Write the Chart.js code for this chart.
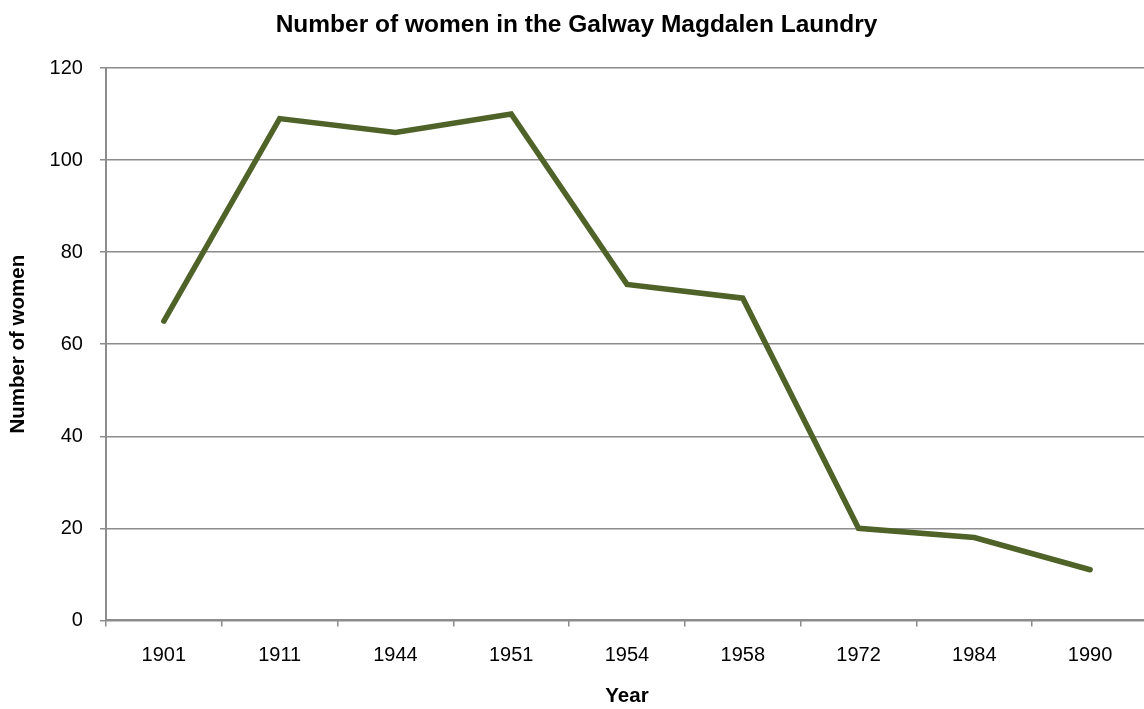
<!DOCTYPE html>
<html lang="en">
<head>
    <meta charset="UTF-8">
    <title>Number of women in the Galway Magdalen Laundry</title>
    <script src="https://cdn.jsdelivr.net/npm/chart.js"></script>
    <style>
        html, body {
            margin: 0;
            padding: 0;
            background: #fff;
            overflow: hidden;
        }
        #wrap {
            width: 1144px;
            height: 709px;
            overflow: hidden;
        }
    </style>
</head>
<body>
<div id="wrap">
    <canvas id="womenChart" width="1148" height="709"></canvas>
</div>

<script>
    // Data
    const years = ['1901', '1911', '1944', '1951', '1954', '1958', '1972', '1984', '1990'];
    const women = [65, 109, 106, 110, 73, 70, 20, 18, 11];
    const yTicks = [0, 20, 40, 60, 80, 100, 120];

    const gridGray = '#8c8c8c';
    const fontFamily = 'Liberation Sans, Arial, sans-serif';

    const ctx = document.getElementById('womenChart').getContext('2d');
    const chart = new Chart(ctx, {
        type: 'line',
        data: {
            labels: years,
            datasets: [{
                label: 'Number of women',
                data: women,
                borderColor: '#4f6228',
                borderWidth: 5.5,
                pointRadius: 0,
                tension: 0,
                fill: false,
                borderCapStyle: 'round',
                borderJoinStyle: 'miter'
            }]
        },
        options: {
            responsive: false,
            animation: false,
            layout: { padding: { left: 5, right: 0, top: 0, bottom: 0 } },
            plugins: {
                legend: { display: false },
                tooltip: { enabled: false },
                title: {
                    display: true,
                    text: 'Number of women in the Galway Magdalen Laundry',
                    color: '#000',
                    font: { family: fontFamily, size: 24.5, weight: 'bold' },
                    padding: { top: 11, bottom: 27.6 }
                }
            },
            scales: {
                x: {
                    offset: true,
                    grid: {
                        offset: true,
                        drawOnChartArea: false,
                        color: gridGray,
                        lineWidth: 1.5,
                        tickLength: 6
                    },
                    border: { color: gridGray, width: 2 },
                    ticks: {
                        color: '#000',
                        padding: 17,
                        maxRotation: 0,
                        font: { family: fontFamily, size: 20 }
                    },
                    title: {
                        display: true,
                        text: 'Year',
                        color: '#000',
                        font: { family: fontFamily, size: 20.5, weight: 'bold' },
                        padding: { top: 0, bottom: 0 }
                    }
                },
                y: {
                    min: 0,
                    max: 120,
                    afterBuildTicks: axis => {
                        axis.ticks = yTicks.map(v => ({ value: v }));
                    },
                    grid: {
                        color: gridGray,
                        lineWidth: 1.5,
                        tickLength: 6
                    },
                    border: { color: gridGray, width: 2 },
                    ticks: {
                        color: '#000',
                        padding: 17,
                        font: { family: fontFamily, size: 20 }
                    },
                    title: {
                        display: true,
                        text: 'Number of women',
                        color: '#000',
                        font: { family: fontFamily, size: 20.5, weight: 'bold' },
                        padding: { top: 0.7, bottom: 2.3 }
                    }
                }
            }
        }
    });
</script>
</body>
</html>
